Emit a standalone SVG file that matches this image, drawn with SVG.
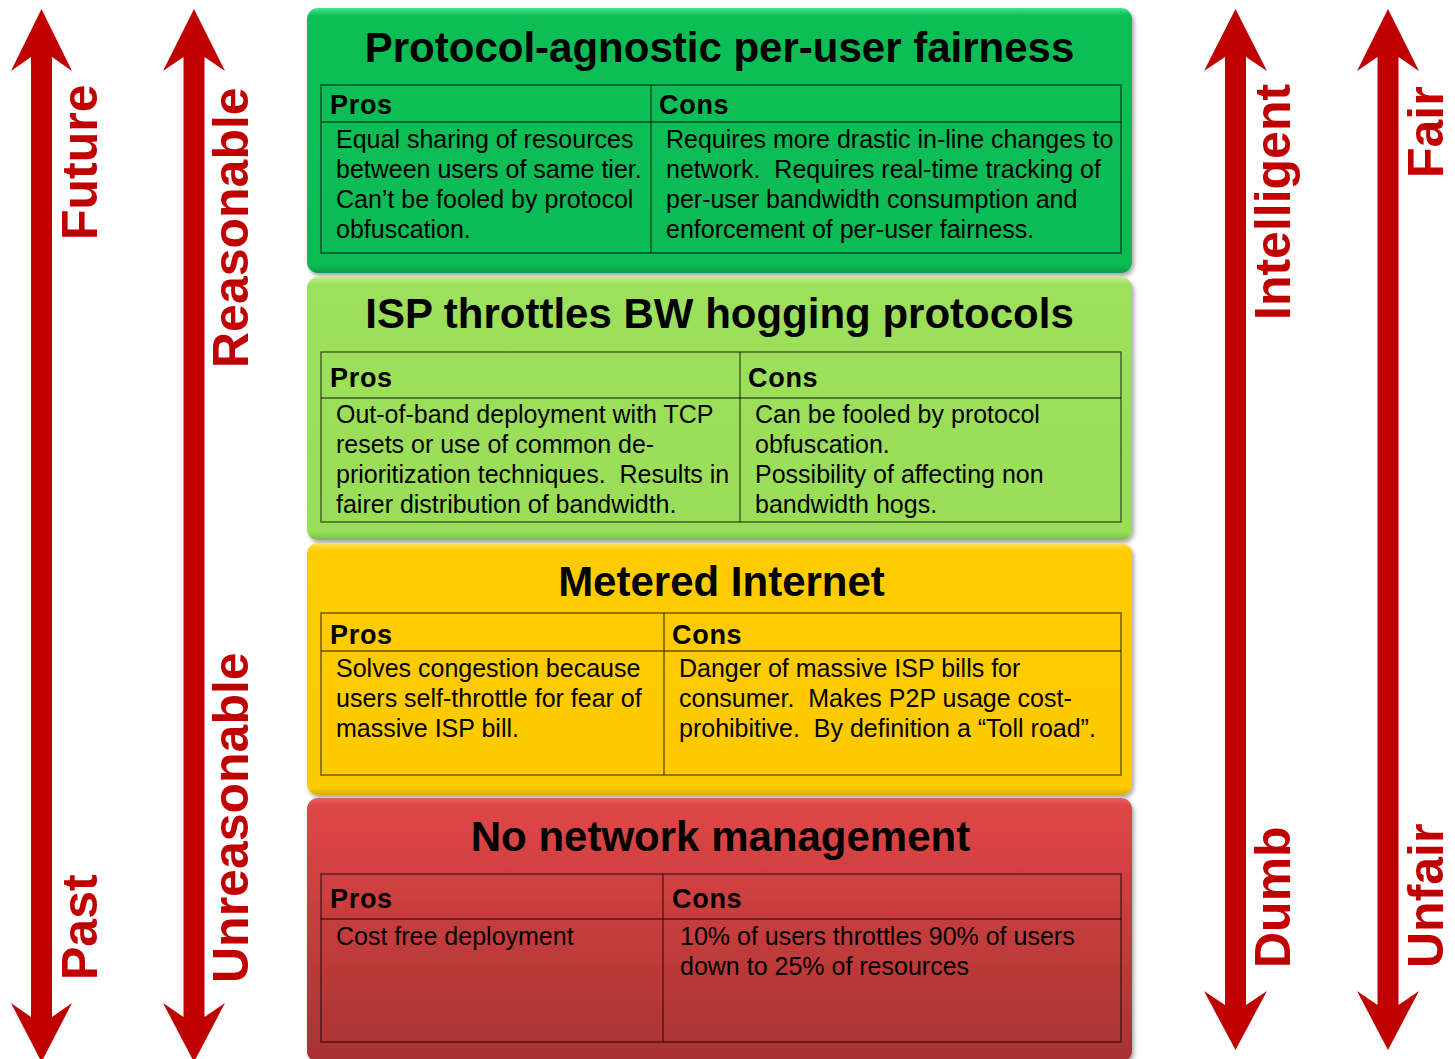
<svg xmlns="http://www.w3.org/2000/svg" width="1455" height="1059" viewBox="0 0 1455 1059">
<defs>
<filter id="sh" x="-5%" y="-5%" width="110%" height="115%">
<feDropShadow dx="2" dy="3" stdDeviation="2.2" flood-color="#000" flood-opacity="0.35"/>
</filter>
<linearGradient id="gGreen" x1="0" y1="0" x2="0" y2="1">
<stop offset="0" stop-color="#3FE58A"/><stop offset="0.03" stop-color="#0BBE56"/><stop offset="0.97" stop-color="#0BBB55"/><stop offset="1" stop-color="#089A45"/>
</linearGradient>
<linearGradient id="gLime" x1="0" y1="0" x2="0" y2="1">
<stop offset="0" stop-color="#BDF08A"/><stop offset="0.03" stop-color="#9DE05B"/><stop offset="0.97" stop-color="#9ADD58"/><stop offset="1" stop-color="#7DBB45"/>
</linearGradient>
<linearGradient id="gYellow" x1="0" y1="0" x2="0" y2="1">
<stop offset="0" stop-color="#FFE060"/><stop offset="0.03" stop-color="#FFCC05"/><stop offset="0.97" stop-color="#FDCA04"/><stop offset="1" stop-color="#D9AC00"/>
</linearGradient>
<linearGradient id="gRed" x1="0" y1="0" x2="0" y2="1">
<stop offset="0" stop-color="#E86060"/><stop offset="0.03" stop-color="#DF4646"/><stop offset="1" stop-color="#A83232"/>
</linearGradient>
</defs>
<style>
text{white-space:pre}
.lbl{font-family:"Liberation Sans",Arial,sans-serif;font-weight:bold;font-size:50px;fill:#C00000}
.arrow{fill:#C00000}
.title{font-family:"Liberation Sans",Arial,sans-serif;font-weight:bold;font-size:42px;fill:#000;text-anchor:middle}
.hdr{font-family:"Liberation Sans",Arial,sans-serif;font-weight:bold;font-size:27px;letter-spacing:0.7px;fill:#000}
.body{font-family:"Liberation Sans",Arial,sans-serif;font-size:25px;fill:#000}
.tbl{fill:none;stroke:#000;stroke-opacity:0.6;stroke-width:1.4}
.box{filter:url(#sh)}
</style>
<rect width="1455" height="1059" fill="#FFFFFF"/>

<g id="connectors">
<polygon class="arrow" points="41.5,9 72,71 52,57 52,1017 72,1003 41.5,1062 11,1003 31,1017 31,57 11,71"/>
<polygon class="arrow" points="194,9 225,71 204.5,57 204.5,1017 225,1003 194,1062 163,1003 183.5,1017 183.5,57 163,71"/>
<polygon class="arrow" points="1235.5,9 1267,71 1246,57 1246,1005 1267,991 1235.5,1050 1204,991 1225,1005 1225,57 1204,71"/>
<polygon class="arrow" points="1388,9 1419,71 1398.5,57 1398.5,1005 1419,991 1388,1050 1357,991 1377.5,1005 1377.5,57 1357,71"/>
</g>

<g id="axis-labels">
<text class="lbl" transform="translate(97,240) rotate(-90)">Future</text>
<text class="lbl" transform="translate(97,980) rotate(-90)">Past</text>
<text class="lbl" transform="translate(248,368) rotate(-90)">Reasonable</text>
<text class="lbl" transform="translate(248,983) rotate(-90)">Unreasonable</text>
<text class="lbl" transform="translate(1290,320) rotate(-90)">Intelligent</text>
<text class="lbl" transform="translate(1290,968) rotate(-90)">Dumb</text>
<text class="lbl" transform="translate(1443,178) rotate(-90)">Fair</text>
<text class="lbl" transform="translate(1443,968) rotate(-90)">Unfair</text>
</g>

<g id="box-fairness">
<rect class="box" x="307" y="8" width="825" height="265" rx="11" fill="url(#gGreen)"/>
<text class="title" x="719.5" y="62">Protocol-agnostic per-user fairness</text>
<rect class="tbl" x="321" y="85" width="800" height="168"/>
<line class="tbl" x1="321" y1="122" x2="1121" y2="122"/>
<line class="tbl" x1="651" y1="85" x2="651" y2="253"/>
<text class="hdr" x="330" y="114">Pros</text>
<text class="hdr" x="659" y="114">Cons</text>
<text class="body" x="336" y="148">Equal sharing of resources</text>
<text class="body" x="336" y="178">between users of same tier.</text>
<text class="body" x="336" y="208">Can’t be fooled by protocol</text>
<text class="body" x="336" y="238">obfuscation.</text>
<text class="body" x="666" y="148">Requires more drastic in-line changes to</text>
<text class="body" x="666" y="178">network.  Requires real-time tracking of</text>
<text class="body" x="666" y="208">per-user bandwidth consumption and</text>
<text class="body" x="666" y="238">enforcement of per-user fairness.</text>
</g>

<g id="box-throttle">
<rect class="box" x="307" y="277" width="825" height="263" rx="11" fill="url(#gLime)"/>
<text class="title" x="719.5" y="328">ISP throttles BW hogging protocols</text>
<rect class="tbl" x="321" y="352" width="800" height="170"/>
<line class="tbl" x1="321" y1="398" x2="1121" y2="398"/>
<line class="tbl" x1="740" y1="352" x2="740" y2="522"/>
<text class="hdr" x="330" y="387">Pros</text>
<text class="hdr" x="748" y="387">Cons</text>
<text class="body" x="336" y="423">Out-of-band deployment with TCP</text>
<text class="body" x="336" y="453">resets or use of common de-</text>
<text class="body" x="336" y="483">prioritization techniques.  Results in</text>
<text class="body" x="336" y="513">fairer distribution of bandwidth.</text>
<text class="body" x="755" y="423">Can be fooled by protocol</text>
<text class="body" x="755" y="453">obfuscation.</text>
<text class="body" x="755" y="483">Possibility of affecting non</text>
<text class="body" x="755" y="513">bandwidth hogs.</text>
</g>

<g id="box-metered">
<rect class="box" x="307" y="543" width="825" height="252" rx="11" fill="url(#gYellow)"/>
<text class="title" x="721.5" y="596">Metered Internet</text>
<rect class="tbl" x="321" y="613" width="800" height="162"/>
<line class="tbl" x1="321" y1="651" x2="1121" y2="651"/>
<line class="tbl" x1="664" y1="613" x2="664" y2="775"/>
<text class="hdr" x="330" y="644">Pros</text>
<text class="hdr" x="672" y="644">Cons</text>
<text class="body" x="336" y="677">Solves congestion because</text>
<text class="body" x="336" y="707">users self-throttle for fear of</text>
<text class="body" x="336" y="737">massive ISP bill.</text>
<text class="body" x="679" y="677">Danger of massive ISP bills for</text>
<text class="body" x="679" y="707">consumer.  Makes P2P usage cost-</text>
<text class="body" x="679" y="737">prohibitive.  By definition a “Toll road”.</text>
</g>

<g id="box-none">
<rect class="box" x="307" y="798" width="825" height="264" rx="11" fill="url(#gRed)"/>
<text class="title" x="720.5" y="851">No network management</text>
<rect class="tbl" x="321" y="874" width="800" height="168"/>
<line class="tbl" x1="321" y1="919" x2="1121" y2="919"/>
<line class="tbl" x1="663" y1="874" x2="663" y2="1042"/>
<text class="hdr" x="330" y="908">Pros</text>
<text class="hdr" x="672" y="908">Cons</text>
<text class="body" x="336" y="945">Cost free deployment</text>
<text class="body" x="680" y="945">10% of users throttles 90% of users</text>
<text class="body" x="680" y="975">down to 25% of resources</text>
</g>
</svg>
